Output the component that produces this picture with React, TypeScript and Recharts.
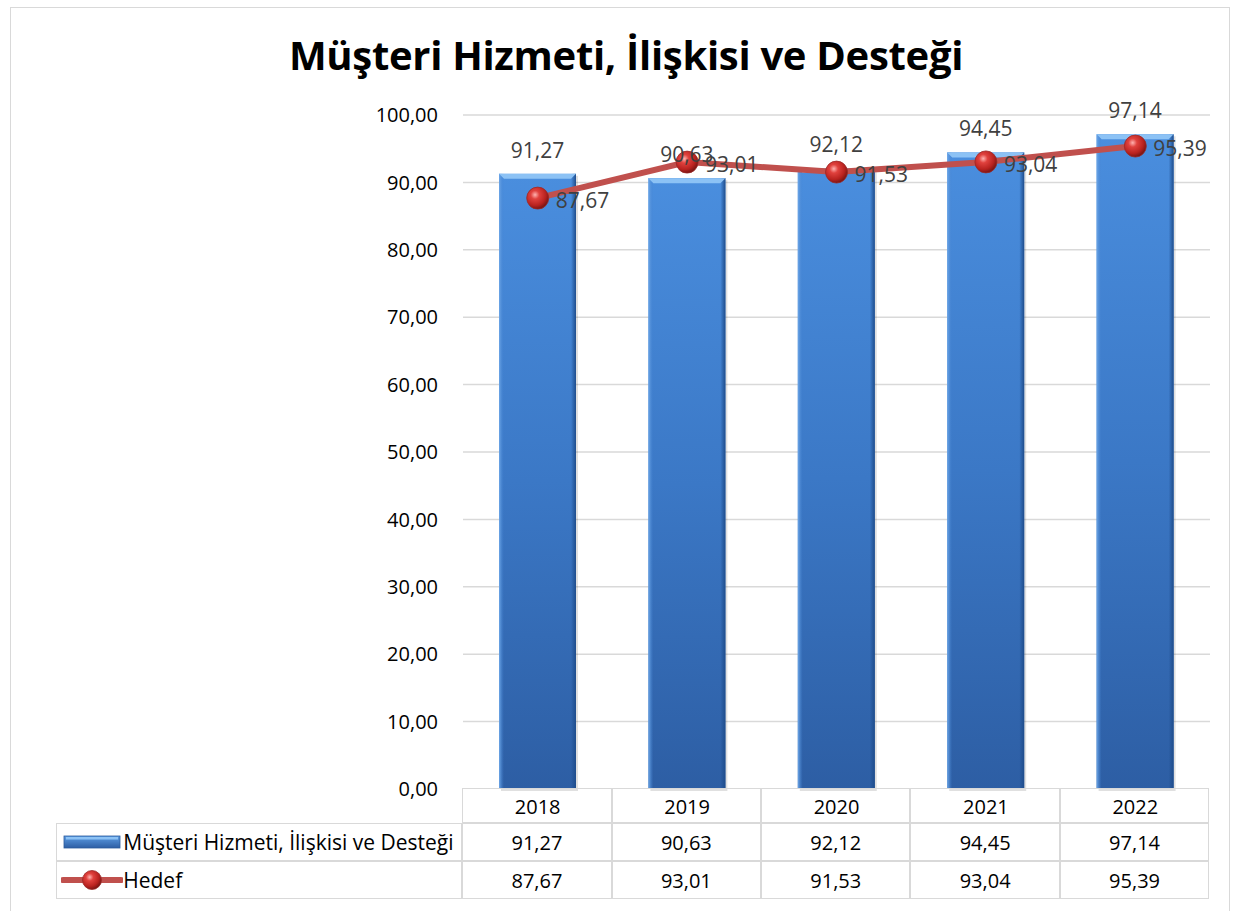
import React from 'react';
import { ComposedChart, Bar, Line, XAxis, YAxis, CartesianGrid, LabelList } from 'recharts';

const years = ['2018', '2019', '2020', '2021', '2022'];
const serviceScores = [91.27, 90.63, 92.12, 94.45, 97.14];
const targetScores = [87.67, 93.01, 91.53, 93.04, 95.39];
const yTicks = [0, 10, 20, 30, 40, 50, 60, 70, 80, 90, 100];

const SERIES_BAR = 'Müşteri Hizmeti, İlişkisi ve Desteği';
const SERIES_LINE = 'Hedef';
const TITLE = 'Müşteri Hizmeti, İlişkisi ve Desteği';

const W = 1242;
const H = 911;
const PLOT_LEFT = 463;
const PLOT_RIGHT = 1210;
const PLOT_TOP = 115;
const PLOT_BOTTOM = 789;
const ROW1_BOTTOM = 824;
const ROW2_BOTTOM = 862;
const ROW3_BOTTOM = 900;
const TABLE_LEFT = 57;
const FONT = '"Open Sans", "Noto Sans", sans-serif';
const TEXT = '#404040';
const BORDER = '#d9d9d9';

const fmt = (v: number) => v.toFixed(2).replace('.', ',');

const chartData = years.map((year, i) => ({
  year,
  service: serviceScores[i],
  target: targetScores[i],
}));

function BevelBar(props: any) {
  const { x, y, width, height } = props;
  if (!height || height <= 0) return null;
  const e = 5;
  return (
    <g>
      <rect x={x + 2} y={y + 2} width={width} height={height} fill="#000" opacity={0.12} />
      <rect x={x} y={y} width={width} height={height} fill="url(#barFill)" />
      <rect x={x} y={y} width={e} height={height} fill="url(#barLeft)" />
      <rect x={x + width - e} y={y} width={e} height={height} fill="url(#barRight)" />
      <polygon
        points={`${x},${y} ${x + width},${y} ${x + width - e},${y + e} ${x + e},${y + e}`}
        fill="#8cc2f5"
      />
    </g>
  );
}

function SphereDot(props: any) {
  const { cx, cy } = props;
  if (cx == null || cy == null) return null;
  return <circle cx={cx} cy={cy} r={11} fill="url(#sphere)" stroke="#9b2a28" strokeWidth={0.8} />;
}

function YearTick(props: any) {
  const { x, y, payload } = props;
  return (
    <text x={x} y={y + 17} textAnchor="middle" dominantBaseline="central" fontSize={20} fill="#000" fontFamily={FONT}>
      {payload.value}
    </text>
  );
}

function LineLabel(props: any) {
  const { x, y, value } = props;
  return (
    <text x={x + 18} y={y + 2} dominantBaseline="central" fontSize={21} fill={TEXT} fontFamily={FONT}>
      {fmt(value)}
    </text>
  );
}

function DataTable() {
  const colW = (PLOT_RIGHT - PLOT_LEFT) / years.length;
  const cell = (left: number, top: number, width: number, height: number, content: React.ReactNode, key: string, align = 'center') => (
    <div
      key={key}
      style={{
        position: 'absolute',
        left,
        top,
        width,
        height,
        boxSizing: 'border-box',
        border: `1.5px solid ${BORDER}`,
        marginLeft: -0.75,
        marginTop: -0.75,
        display: 'flex',
        alignItems: 'center',
        justifyContent: align === 'center' ? 'center' : 'flex-start',
        fontFamily: FONT,
        fontSize: 20,
        color: '#000',
        whiteSpace: 'nowrap',
      }}
    >
      {content}
    </div>
  );
  const cells: React.ReactNode[] = [];
  years.forEach((y, i) => {
    const left = PLOT_LEFT + i * colW;
    cells.push(cell(left, PLOT_BOTTOM, colW, ROW1_BOTTOM - PLOT_BOTTOM, null, `h${i}`));
    cells.push(cell(left, ROW1_BOTTOM, colW, ROW2_BOTTOM - ROW1_BOTTOM, fmt(serviceScores[i]), `s${i}`));
    cells.push(cell(left, ROW2_BOTTOM, colW, ROW3_BOTTOM - ROW2_BOTTOM, fmt(targetScores[i]), `t${i}`));
  });
  const barKey = (
    <svg width={60} height={16} style={{ marginLeft: 6, marginRight: 0, flexShrink: 0 }}>
      <rect x={1} y={2} width={56} height={12} fill="url(#keyFill)" stroke="#2b5b9c" strokeWidth={0.8} />
      <rect x={3} y={3} width={52} height={2.5} fill="#8cc2f5" />
    </svg>
  );
  const lineKey = (
    <svg width={62} height={24} style={{ marginLeft: 4, marginRight: 0, flexShrink: 0 }}>
      <line x1={2} y1={12} x2={60} y2={12} stroke="#c0504d" strokeWidth={6} strokeLinecap="round" />
      <circle cx={31} cy={12} r={9.5} fill="url(#sphere)" stroke="#9b2a28" strokeWidth={0.8} />
    </svg>
  );
  cells.push(
    cell(TABLE_LEFT, ROW1_BOTTOM, PLOT_LEFT - TABLE_LEFT, ROW2_BOTTOM - ROW1_BOTTOM, <>{barKey}<span style={{ fontSize: 21 }}>{SERIES_BAR}</span></>, 'lb', 'left'),
  );
  cells.push(
    cell(TABLE_LEFT, ROW2_BOTTOM, PLOT_LEFT - TABLE_LEFT, ROW3_BOTTOM - ROW2_BOTTOM, <>{lineKey}<span style={{ fontSize: 21 }}>{SERIES_LINE}</span></>, 'll', 'left'),
  );
  return <>{cells}</>;
}

export default function App() {
  return (
    <div style={{ position: 'absolute', left: 0, top: 0, width: W, height: H, background: '#fff', overflow: 'hidden' }}>
      <div
        style={{
          position: 'absolute',
          left: 10,
          top: 7,
          width: 1220,
          height: 920,
          border: `1.5px solid ${BORDER}`,
          boxSizing: 'border-box',
        }}
      />
      <div
        style={{
          position: 'absolute',
          left: 0,
          width: 1252,
          top: 28,
          textAlign: 'center',
          fontFamily: FONT,
          fontWeight: 700,
          fontSize: 40,
          color: '#000',
          lineHeight: '54px',
          letterSpacing: -0.3,
        }}
      >
        {TITLE}
      </div>
      <svg width={0} height={0} style={{ position: 'absolute' }}>
        <defs>
          <linearGradient id="barFill" x1="0" y1="0" x2="0" y2="1">
            <stop offset="0%" stopColor="#4a8ede" />
            <stop offset="50%" stopColor="#3b78c6" />
            <stop offset="100%" stopColor="#2d5ea4" />
          </linearGradient>
          <linearGradient id="barLeft" x1="0" y1="0" x2="1" y2="0">
            <stop offset="0%" stopColor="#6fa8e8" />
            <stop offset="100%" stopColor="#4180cf" stopOpacity={0} />
          </linearGradient>
          <linearGradient id="barRight" x1="0" y1="0" x2="1" y2="0">
            <stop offset="0%" stopColor="#1f4d8c" stopOpacity={0} />
            <stop offset="100%" stopColor="#1f4d8c" />
          </linearGradient>
          <linearGradient id="keyFill" x1="0" y1="0" x2="0" y2="1">
            <stop offset="0%" stopColor="#5d9de4" />
            <stop offset="100%" stopColor="#2d5ea4" />
          </linearGradient>
          <radialGradient id="sphere" cx="38%" cy="35%" r="65%">
            <stop offset="0%" stopColor="#ffb3b0" />
            <stop offset="30%" stopColor="#e0413d" />
            <stop offset="75%" stopColor="#b8221f" />
            <stop offset="100%" stopColor="#7c1614" />
          </radialGradient>
        </defs>
      </svg>
      <div style={{ position: 'absolute', left: 0, top: 0 }}>
        <ComposedChart
          width={W}
          height={H}
          data={chartData}
          margin={{ top: PLOT_TOP, right: W - PLOT_RIGHT, bottom: H - PLOT_BOTTOM - 30, left: 0 }}
        >
          <CartesianGrid vertical={false} stroke={BORDER} strokeWidth={1.5} horizontalValues={yTicks.filter((t) => t > 0)} />
          <XAxis
            dataKey="year"
            height={30}
            axisLine={false}
            tickLine={false}
            tickSize={0}
            tickMargin={0}
            tick={<YearTick />}
            interval={0}
          />
          <YAxis
            width={PLOT_LEFT}
            domain={[0, 100]}
            ticks={yTicks}
            axisLine={false}
            tickLine={false}
            tickSize={0}
            tickMargin={25}
            tickFormatter={fmt}
            tick={{ fontSize: 20, fill: '#000', fontFamily: FONT }}
          />
          <Bar dataKey="service" name={SERIES_BAR} barSize={77} shape={<BevelBar />} isAnimationActive={false}>
            <LabelList
              dataKey="service"
              position="top"
              offset={16}
              formatter={(v: any) => fmt(Number(v))}
              style={{ fontSize: 21, fill: TEXT, fontFamily: FONT }}
            />
          </Bar>
          <Line
            dataKey="target"
            name={SERIES_LINE}
            stroke="#c0504d"
            strokeWidth={6}
            dot={<SphereDot />}
            activeDot={false}
            isAnimationActive={false}
          >
            <LabelList dataKey="target" content={<LineLabel />} />
          </Line>
        </ComposedChart>
      </div>
      <DataTable />
    </div>
  );
}
